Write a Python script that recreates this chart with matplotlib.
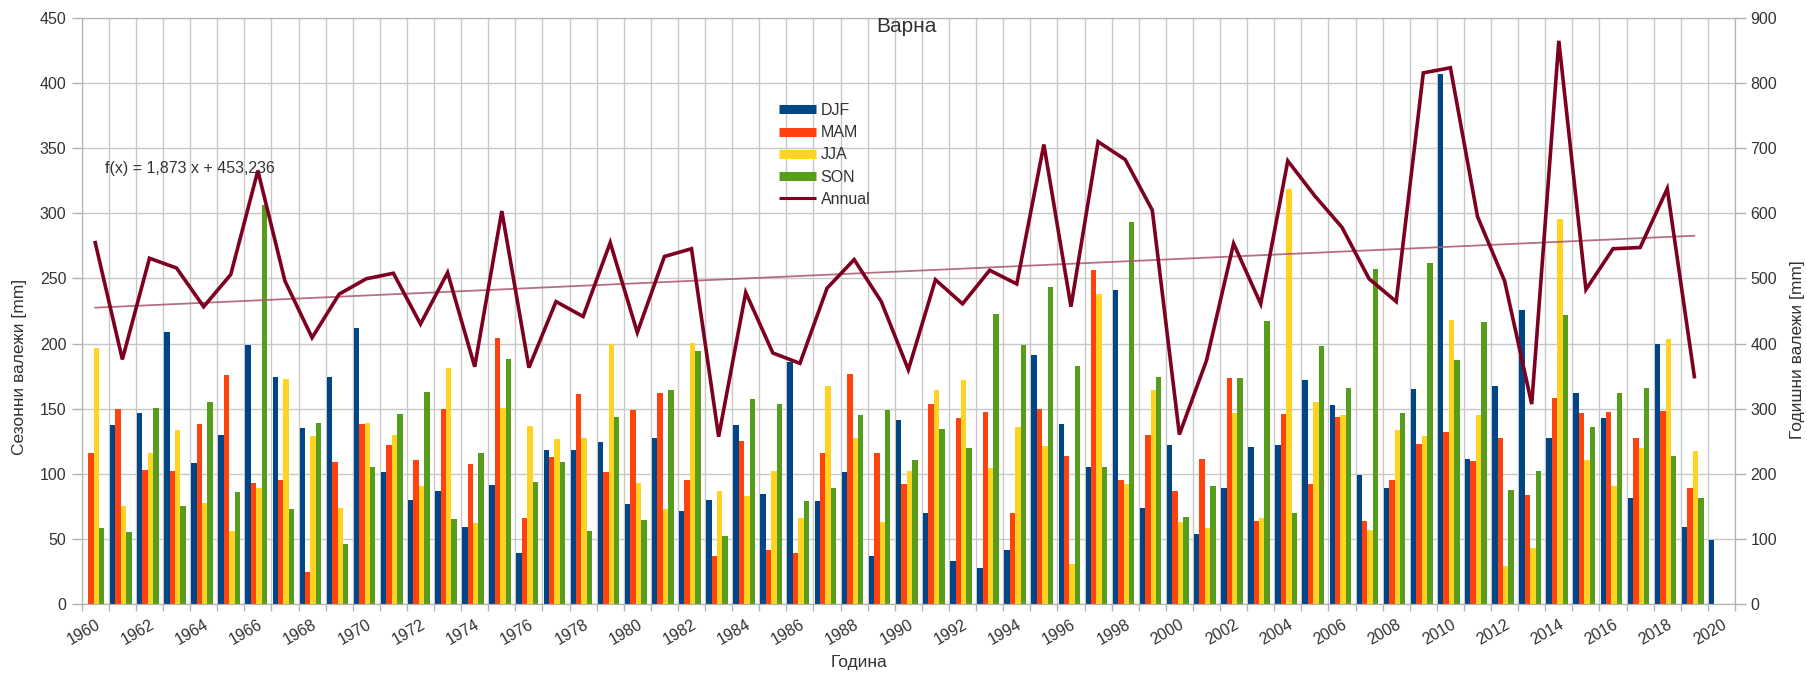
import numpy as np
import matplotlib
matplotlib.use("Agg")
import matplotlib.pyplot as plt
from matplotlib.lines import Line2D

plt.rcParams['font.family'] = ['Liberation Sans', 'DejaVu Sans']

nan = np.nan
years = list(range(1960, 2021))

djf = [nan, 137.7, 146.6, 208.5, 108.0, 129.5, 198.6, 174.6, 135.4, 174.6,
       211.8, 101.5, 80.0, 86.6, 59.3, 91.6, 38.9, 118.6, 118.6, 124.5,
       76.7, 127.8, 71.8, 80.0, 137.7, 84.3, 186.1, 79.0, 101.5, 37.2,
       141.6, 69.5, 32.9, 28.0, 41.5, 191.0, 138.3, 105.4, 240.8, 73.5,
       122.2, 53.7, 89.3, 120.2, 121.9, 172.3, 152.5, 99.1, 88.9, 165.0,
       407.1, 111.3, 167.3, 225.6, 127.8, 161.7, 142.6, 81.7, 199.6, 59.3,
       48.8]
mam = [116.3, 149.9, 103.0, 102.4, 138.3, 175.6, 93.2, 95.5, 24.7, 109.0,
       138.3, 122.2, 110.7, 149.9, 107.4, 204.2, 66.2, 113.0, 161.4, 101.5,
       149.2, 161.7, 95.5, 37.2, 125.2, 41.2, 38.9, 116.3, 176.6, 115.6,
       92.2, 153.5, 142.6, 147.6, 70.2, 149.9, 113.6, 256.3, 95.5, 130.1,
       86.6, 111.3, 173.9, 63.6, 145.9, 92.2, 143.6, 63.6, 94.9, 122.9,
       131.8, 109.7, 127.1, 84.0, 158.4, 146.6, 147.6, 127.1, 148.2, 88.9,
       nan]
jja = [196.3, 75.0, 116.0, 133.7, 77.7, 56.3, 89.3, 173.0, 128.8, 74.1,
       139.3, 129.5, 90.6, 181.5, 61.9, 150.2, 136.7, 126.8, 127.8, 199.6,
       93.2, 72.8, 200.3, 86.6, 83.3, 102.1, 65.9, 167.3, 127.8, 62.6,
       102.1, 164.7, 172.3, 104.1, 136.0, 121.2, 30.6, 238.2, 92.2, 164.7,
       62.9, 58.6, 146.9, 65.9, 318.9, 155.1, 145.3, 57.0, 133.4, 128.8,
       218.4, 145.0, 29.0, 43.2, 295.8, 110.3, 90.6, 119.6, 203.6, 117.3,
       nan]
son = [58.0, 55.3, 150.2, 75.0, 155.1, 86.0, 306.3, 72.8, 138.7, 46.4,
       105.4, 146.0, 163.0, 65.2, 116.3, 187.8, 93.9, 109.0, 56.3, 143.3,
       64.6, 164.7, 194.3, 52.0, 157.5, 153.5, 79.0, 89.3, 145.0, 148.6,
       110.7, 134.4, 119.6, 222.7, 198.6, 243.8, 183.1, 105.4, 293.5, 174.6,
       66.9, 90.9, 173.9, 217.7, 70.2, 198.0, 165.7, 257.3, 146.9, 262.2,
       187.1, 216.7, 87.3, 102.1, 221.7, 136.0, 162.4, 165.7, 114.0, 81.7,
       nan]
annual = [555.0, 375.6, 531.0, 516.0, 456.6, 506.0, 665.5, 496.0, 409.0, 476.0,
          499.5, 508.0, 430.0, 509.0, 364.4, 603.6, 363.0, 464.5, 441.5, 555.0,
          417.0, 533.7, 545.6, 257.0, 478.4, 385.5, 369.6, 485.0, 529.0, 464.5,
          359.8, 498.0, 461.0, 512.6, 491.5, 705.7, 456.6, 710.0, 682.6, 604.9,
          260.3, 374.0, 553.5, 461.0, 680.6, 626.6, 578.5, 499.4, 464.5, 815.7,
          823.6, 595.0, 496.0, 307.0, 865.0, 483.0, 545.6, 547.5, 637.8, 349.2,
          nan]

season_names = ['DJF', 'MAM', 'JJA', 'SON']
season_colors = ['#004586', '#ff420e', '#ffd320', '#579d1c']
annual_color = '#7e0021'
trend_color = '#a8566f'
trend_slope = 1.873
trend_intercept = 453.236
trend_text = 'f(x) = 1,873 x + 453,236'

W, H = 1808, 673
fig = plt.figure(figsize=(W / 100, H / 100), dpi=100)
left_px, right_px, top_px, bottom_px = 81.7, 1735.0, 18.0, 604.0
ax = fig.add_axes([left_px / W, 1 - bottom_px / H,
                   (right_px - left_px) / W, (bottom_px - top_px) / H])

x = np.arange(len(years))
bw = 0.2
shift = -0.06
for k, (vals, col) in enumerate(zip([djf, mam, jja, son], season_colors)):
    ax.bar(x + shift + (k - 1.5) * bw, vals, width=bw, color=col,
           linewidth=0, zorder=2)

grid_col = '#c8c8c8'
tick_col = '#b3b3b3'
text_col = '#333333'

ax.set_xlim(-0.5, len(years) - 0.5)
ax.set_ylim(0, 450)
ax.set_yticks(np.arange(0, 451, 50))
ax.set_xticks(x[::2])
ax.set_xticklabels([str(y) for y in years[::2]], rotation=30, ha='right',
                   va='top', rotation_mode='anchor')
ax.set_xticks(np.arange(-0.5, len(years), 1), minor=True)
ax.tick_params(axis='x', which='major', length=0, pad=9, labelsize=11.5,
               labelcolor=text_col)
ax.tick_params(axis='x', which='minor', length=5, width=1, color=tick_col,
               direction='out')
ax.tick_params(axis='y', length=7, width=1, color=tick_col, pad=4,
               labelsize=11.5, labelcolor=text_col)
ax.grid(True, axis='x', which='minor', color=grid_col, linewidth=1)
ax.grid(True, axis='y', which='major', color=grid_col, linewidth=1)
ax.grid(False, axis='x', which='major')
ax.set_axisbelow(True)
for sp in ax.spines.values():
    sp.set_color(tick_col)

ax2 = ax.twinx()
ax2.set_ylim(0, 900)
ax2.set_yticks(np.arange(0, 901, 100))
ax2.tick_params(axis='y', length=8, width=1, color=tick_col, pad=3,
                labelsize=11.5, labelcolor=text_col)
for sp in ax2.spines.values():
    sp.set_color(tick_col)

ax2.plot(x, annual, color=annual_color, linewidth=2.6, zorder=3,
         solid_joinstyle='miter')
n_trend = np.count_nonzero(~np.isnan(annual))
xt = x[:n_trend]
ax2.plot(xt, trend_slope * (xt + 1) + trend_intercept, color=trend_color,
         linewidth=1.3, alpha=0.85, zorder=2.5)

# legend
handles = [Line2D([], [], color=c, linewidth=6.5, solid_capstyle='butt')
           for c in season_colors]
handles.append(Line2D([], [], color=annual_color, linewidth=2.2,
                      solid_capstyle='butt'))
ax2.legend(handles, season_names + ['Annual'], loc='upper left',
           bbox_to_anchor=(779 / W, 1 - 103 / H),
           bbox_transform=fig.transFigure, frameon=False, borderpad=0,
           borderaxespad=0, handlelength=2.3, handletextpad=0.3,
           labelspacing=0.45, fontsize=11.5, labelcolor=text_col)

fig.text(906 / W, 1 - 26 / H, 'Варна', ha='center', va='center',
         fontsize=15, color=text_col)
fig.text(105 / W, 1 - 168 / H, trend_text, ha='left', va='center',
         fontsize=11.5, color=text_col)
fig.text(20 / W, 1 - 367 / H, 'Сезонни валежи [mm]', rotation=90,
         ha='center', va='center', fontsize=12.5, color=text_col)
fig.text(1798 / W, 1 - 350 / H, 'Годишни валежи [mm]', rotation=90,
         ha='center', va='center', fontsize=12.5, color=text_col)
fig.text(859 / W, 1 - 662 / H, 'Година', ha='center', va='center',
         fontsize=12.5, color=text_col)

fig.savefig('out.png', dpi=100)
